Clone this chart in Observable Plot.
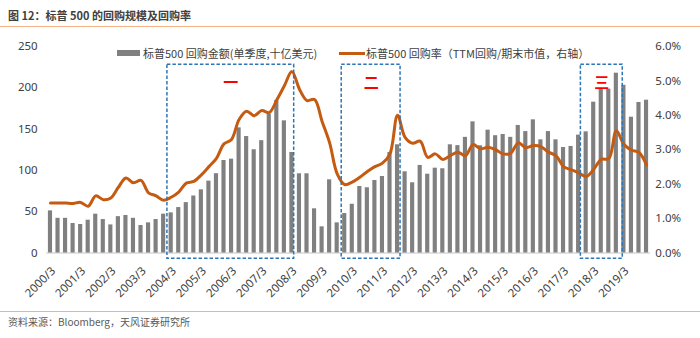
<!DOCTYPE html>
<html><head><meta charset="utf-8">
<script src="https://cdn.jsdelivr.net/npm/d3@7"></script>
<script src="https://cdn.jsdelivr.net/npm/@observablehq/plot@0.6"></script>
<style>
body{margin:0;background:#fff;font-family:"Noto Sans","Noto Sans CJK SC",sans-serif;}
#wrap{position:relative;width:700px;height:338px;overflow:hidden;background:#fff}
#title{position:absolute;left:0;top:0;width:700px;height:26px;border-bottom:1px solid #F4B183;font-weight:bold;font-size:11px;font-family:"Noto Sans CJK SC",sans-serif;color:#404040;line-height:30px;padding-left:8px;box-sizing:content-box}
#chart{position:absolute;left:0;top:30px}
#caption{position:absolute;left:0;top:311px;width:700px;border-top:1px solid #F4B183;font-size:10px;font-family:"Noto Sans CJK SC",sans-serif;color:#595959;line-height:20px;padding-left:8px}
.lg{position:absolute;font-size:11px;font-family:"Noto Sans CJK SC",sans-serif;color:#404040;line-height:14px;white-space:nowrap}
</style>
</head><body>
<div id="wrap">
  <div id="title">图 12：标普 500 的回购规模及回购率</div>
  <div id="chart"></div>
  <div id="legend"></div>
  <div id="caption">资料来源：Bloomberg，天风证券研究所</div>
</div>
<script>
// Quarterly data 2000Q1 .. 2019Q4
const startYear = 2000;
const buyback = [
  51, 42, 42, 35.7, 34.5, 39.7, 47, 40.5, 34, 44, 45.4, 42, 33.3, 36.5, 40.5, 47, 48.6, 55, 61, 69,
  76.5, 87, 96, 112, 113.6, 151.5, 141, 125, 136, 167.7, 184.6, 160, 121.7, 95.9, 95.9, 53.5, 31.7, 88.6, 36.5, 47.8,
  59, 80.5, 79, 87.8, 92.6, 121.7, 131, 98.3, 85, 106, 95.4, 102.7, 102, 131, 130, 140, 158.8, 129.8, 148.7, 142,
  143.5, 140, 154.4, 147, 161.2, 137, 147, 137, 127.7, 129, 142.7, 146.7, 182.6, 198.4, 198.4, 217.7, 203, 164.4, 182.2, 185
];
const buybackRate = [
  1.45, 1.45, 1.45, 1.44, 1.47, 1.36, 1.66, 1.55, 1.60, 1.91, 2.18, 2.04, 2.11, 1.75, 1.66, 1.53, 1.62, 1.77, 2.03, 2.08,
  2.27, 2.51, 2.75, 3.17, 3.30, 3.88, 4.12, 3.99, 4.14, 4.08, 4.45, 4.86, 5.27, 4.76, 4.43, 4.46, 3.82, 3.20, 2.30, 1.99,
  2.06, 2.20, 2.37, 2.51, 2.61, 2.88, 4.00, 3.36, 3.19, 3.25, 2.78, 2.88, 2.72, 2.83, 2.93, 2.83, 3.15, 3.03, 3.07, 3.00,
  2.88, 2.90, 3.20, 3.06, 3.12, 3.09, 2.93, 2.83, 2.51, 2.42, 2.33, 2.22, 2.43, 2.72, 2.74, 3.55, 3.16, 2.99, 2.92, 2.56
];
const xTickLabels = ["2000/3","2001/3","2002/3","2003/3","2004/3","2005/3","2006/3","2007/3","2008/3","2009/3",
  "2010/3","2011/3","2012/3","2013/3","2014/3","2015/3","2016/3","2017/3","2018/3","2019/3"];
const leftTicks = [0, 50, 100, 150, 200, 250];
const rightTicks = [0, 1, 2, 3, 4, 5, 6]; // percent
const boxLabels = ["一", "二", "三"];
const boxStart = [15.5, 38.6, 70.3];   // quarter index
const boxEnd = [32.3, 46.4, 75.85];
const boxTop = 228, boxBottom = -7;    // left-axis units
const labelY = 206;
const seriesNames = ["标普500 回购金额(单季度,十亿美元)", "标普500 回购率（TTM回购/期末市值，右轴）"];

const leftMax = 250, rightMax = 6;
const toLeft = v => v * leftMax / rightMax;

const table = buyback.map((b, i) => ({i, buyback: b, rate: buybackRate[i]}));
const boxes = boxLabels.map((l, j) => ({label: l, x1: boxStart[j], x2: boxEnd[j]}));

const BAR = "#808080", LINE = "#C55A11", BOX = "#2E75B6";

const chart = Plot.plot({
  width: 700, height: 281,
  marginTop: 16, marginBottom: 58.5, marginLeft: 46.2, marginRight: 50.2,
  x: {type: "linear", domain: [-0.5, 79.5]},
  y: {domain: [0, 250]},
  style: {fontSize: "11.5px", color: "#404040", fontFamily: "'Noto Sans','Noto Sans CJK SC',sans-serif", background: "transparent"},
  marks: [
    Plot.ruleY([0], {stroke: "#D9D9D9", strokeWidth: 1.5}),
    Plot.rectY(table, {x1: d => d.i - 0.275, x2: d => d.i + 0.275, y: "buyback", fill: BAR}),
    Plot.line(table, {x: "i", y: d => toLeft(d.rate), stroke: LINE, strokeWidth: 3, curve: "catmull-rom"}),
    Plot.rect(boxes, {x1: "x1", x2: "x2", y1: boxBottom, y2: boxTop, fill: "none", stroke: BOX, strokeWidth: 1.5, strokeDasharray: "3.5,2"}),
    Plot.text(boxes, {x: d => (d.x1 + d.x2) / 2, y: labelY, text: "label", fill: "#FF0000", fontSize: 15, fontWeight: "bold", fontFamily: "Noto Sans CJK SC"}),
    Plot.axisY({ticks: leftTicks, tickSize: 0, tickPadding: 9, label: null}),
    Plot.axisY({anchor: "right", ticks: rightTicks.map(toLeft), tickFormat: d => (d * rightMax / leftMax).toFixed(1) + "%", tickSize: 0, tickPadding: 5, label: null}),
    Plot.axisX({ticks: xTickLabels.map((_, k) => k * 4), tickFormat: i => xTickLabels[i / 4], tickRotate: -45, tickSize: 0, tickPadding: 16, dx: 3, label: null})
  ]
});
document.getElementById("chart").appendChild(chart);

// legend (overlay)
const lg = document.getElementById("legend");
lg.innerHTML = `
  <div style="position:absolute;left:117px;top:50px;width:23px;height:6px;background:${BAR}"></div>
  <div class="lg" style="left:143px;top:46px">${seriesNames[0]}</div>
  <div style="position:absolute;left:339px;top:51.5px;width:26px;height:3px;background:${LINE}"></div>
  <div class="lg" style="left:366px;top:46px">${seriesNames[1]}</div>`;
</script>
</body></html>
